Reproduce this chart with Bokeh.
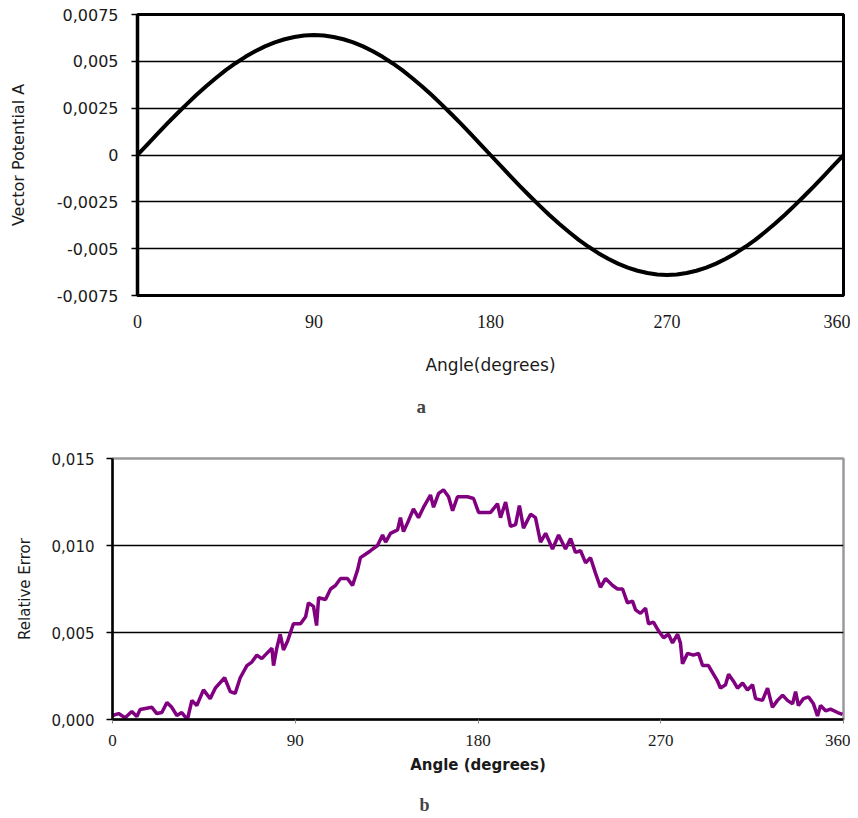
from bokeh.plotting import figure
from bokeh.layouts import column, row
from bokeh.models import FixedTicker, Title, Range1d
from bokeh.embed import file_html
from bokeh.resources import INLINE

# ---- data: panel a (vector potential) ----
angle_a = list(range(0, 365, 5))
potential_a = [
    0.0, 0.00056, 0.00111, 0.00166, 0.00219, 0.00270, 0.00320, 0.00367, 0.00411, 0.00453,
    0.00490, 0.00524, 0.00554, 0.00580, 0.00601, 0.00618, 0.00630, 0.00638, 0.00640,
    0.00638, 0.00630, 0.00618, 0.00601, 0.00580, 0.00554, 0.00524, 0.00490, 0.00453,
    0.00411, 0.00367, 0.00320, 0.00270, 0.00219, 0.00166, 0.00111, 0.00056, 0.0,
    -0.00056, -0.00111, -0.00166, -0.00219, -0.00270, -0.00320, -0.00367, -0.00411, -0.00453,
    -0.00490, -0.00524, -0.00554, -0.00580, -0.00601, -0.00618, -0.00630, -0.00638, -0.00640,
    -0.00638, -0.00630, -0.00618, -0.00601, -0.00580, -0.00554, -0.00524, -0.00490, -0.00453,
    -0.00411, -0.00367, -0.00320, -0.00270, -0.00219, -0.00166, -0.00111, -0.00056, 0.0,
]

# ---- data: panel b (relative error) ----
angle_b = [
    0, 3.0, 6.2, 9.5, 12.0, 13.6, 19.4, 21.8, 24.3, 26.8, 29.2, 31.7, 34.1, 36.9, 39.1,
    41.5, 44.8, 48.1, 50.6, 55.2, 58.0, 60.4, 62.9, 66.2, 68.6, 71.1, 73.5, 76.0, 78.5,
    79.3, 80.9, 82.6, 84.2, 86.2, 89.1, 92.6, 95.1, 96.5, 99.0, 100.5, 101.5, 104.9,
    107.4, 109.8, 112.3, 115.7, 118.2, 120.7, 122.1, 124.6, 127.1, 130.5, 133.0, 134.5,
    136.9, 140.4, 141.8, 143.3, 145.3, 148.2, 150.7, 153.2, 156.6, 158.1, 160.6, 163.0,
    165.5, 167.5, 169.9, 174.8, 177.8, 180.3, 186.2, 189.6, 191.1, 193.6, 196.0, 198.5,
    200.4, 202.4, 205.9, 208.3, 210.8, 213.3, 216.7, 219.7, 223.1, 225.6, 228.0, 230.5,
    233.0, 235.4, 237.9, 240.3, 242.8, 246.3, 248.7, 251.2, 253.6, 256.1, 257.6, 260.0,
    262.5, 264.0, 266.4, 268.9, 271.4, 273.8, 275.8, 278.3, 279.7, 280.7, 283.2, 286.1,
    288.6, 290.6, 293.5, 295.5, 298.0, 299.4, 301.9, 303.4, 305.8, 307.8, 310.3, 312.7,
    315.2, 316.7, 320.1, 322.6, 325.0, 327.5, 330.0, 332.4, 334.9, 336.4, 337.8, 340.3,
    342.8, 345.2, 347.2, 348.7, 351.2, 353.6, 357.1, 359.5,
]
error_b = [
    0.00023, 0.00034, 0.0001, 0.00046, 0.00017, 0.00057, 0.0007, 0.00034, 0.0004, 0.00098,
    0.0007, 0.00023, 0.0004, 0.0, 0.0011, 0.0008, 0.0017, 0.0012, 0.0018, 0.0024, 0.0016,
    0.0015, 0.0024, 0.0031, 0.0033, 0.0037, 0.0035, 0.0038, 0.0041, 0.0031, 0.0041, 0.0049,
    0.0040, 0.0045, 0.0055, 0.0055, 0.0059, 0.0067, 0.0065, 0.0054, 0.0070, 0.0069, 0.0075,
    0.0077, 0.0081, 0.0081, 0.0077, 0.0086, 0.0093, 0.0095, 0.0097, 0.0100, 0.0106, 0.0102,
    0.0107, 0.0109, 0.0116, 0.0108, 0.0113, 0.0121, 0.0116, 0.0122, 0.0129, 0.0122, 0.0130,
    0.0132, 0.0128, 0.0120, 0.0128, 0.0128, 0.0127, 0.0119, 0.0119, 0.0124, 0.0116, 0.0125,
    0.0111, 0.0112, 0.0123, 0.0110, 0.0118, 0.0116, 0.0102, 0.0107, 0.0098, 0.0106, 0.0098,
    0.0104, 0.0096, 0.0097, 0.0090, 0.0093, 0.0084, 0.0076, 0.0081, 0.0077, 0.0075, 0.0075,
    0.0067, 0.0068, 0.0063, 0.0061, 0.0064, 0.0055, 0.0056, 0.0051, 0.0047, 0.0049, 0.0044,
    0.0049, 0.0044, 0.0032, 0.0038, 0.0037, 0.0038, 0.0031, 0.0031, 0.0027, 0.0022, 0.0018,
    0.0020, 0.0026, 0.0022, 0.0018, 0.0021, 0.0017, 0.0020, 0.0012, 0.0011, 0.0018, 0.0007,
    0.0011, 0.0014, 0.0011, 0.0009, 0.0016, 0.0008, 0.0012, 0.0013, 0.0009, 0.0002, 0.0008,
    0.0005, 0.0006, 0.0004, 0.0003,
]

x_ticks = [0, 90, 180, 270, 360]
y_ticks_a = [-0.0075, -0.005, -0.0025, 0, 0.0025, 0.005, 0.0075]
y_labels_a = ["-0,0075", "-0,005", "-0,0025", "0", "0,0025", "0,005", "0,0075"]
y_ticks_b = [0, 0.005, 0.010, 0.015]
y_labels_b = ["0,000", "0,005", "0,010", "0,015"]

SANS = "DejaVu Sans"
SERIF = "Liberation Serif"
TXT = "#1a1a1a"

# ---------------- panel a ----------------
p1 = figure(width=850, height=434, output_backend="svg", toolbar_location=None,
            x_range=Range1d(0, 360), y_range=Range1d(-0.0075, 0.0075),
            min_border_left=137, min_border_right=7, min_border_top=14, min_border_bottom=139)
p1.line(angle_a, potential_a, line_color="black", line_width=4)

p1.outline_line_color = "black"
p1.outline_line_width = 3
p1.xgrid.visible = False
p1.ygrid.grid_line_color = "black"
p1.ygrid.grid_line_width = 1.5
p1.ygrid.ticker = FixedTicker(ticks=y_ticks_a)

p1.yaxis.ticker = FixedTicker(ticks=y_ticks_a)
p1.yaxis.major_label_overrides = {t: l for t, l in zip(y_ticks_a, y_labels_a)}
p1.yaxis.axis_line_color = "black"
p1.yaxis.axis_line_width = 3.5
p1.yaxis.major_tick_out = 6
p1.yaxis.major_tick_in = 0
p1.yaxis.major_tick_line_width = 1.5
p1.yaxis.minor_tick_line_color = None
p1.yaxis.major_label_text_font = SANS
p1.yaxis.major_label_text_font_size = "16px"
p1.yaxis.major_label_text_color = TXT
p1.yaxis.major_label_standoff = 13
p1.yaxis.axis_label = "Vector Potential A"
p1.yaxis.axis_label_text_font = SANS
p1.yaxis.axis_label_text_font_size = "16px"
p1.yaxis.axis_label_text_font_style = "normal"
p1.yaxis.axis_label_text_color = TXT
p1.yaxis.axis_label_standoff = 26

p1.xaxis.ticker = FixedTicker(ticks=x_ticks)
p1.xaxis.axis_line_color = "black"
p1.xaxis.axis_line_width = 3
p1.xaxis.major_tick_out = 0
p1.xaxis.major_tick_in = 0
p1.xaxis.major_tick_line_color = None
p1.xaxis.minor_tick_line_color = None
p1.xaxis.major_label_text_font = SERIF
p1.xaxis.major_label_text_font_size = "18px"
p1.xaxis.major_label_text_color = TXT
p1.xaxis.major_label_standoff = 19
p1.xaxis.axis_label = "Angle(degrees)"
p1.xaxis.axis_label_text_font = SANS
p1.xaxis.axis_label_text_font_size = "17px"
p1.xaxis.axis_label_text_font_style = "normal"
p1.xaxis.axis_label_text_color = TXT
p1.xaxis.axis_label_standoff = 24

p1.add_layout(Title(text="a", text_font=SERIF, text_font_style="bold", text_font_size="19px",
                    align="left", offset=279, standoff=33), "below")

# ---------------- panel b ----------------
p2 = figure(width=850, height=384, output_backend="svg", toolbar_location=None,
            x_range=Range1d(0, 360), y_range=Range1d(0, 0.015),
            min_border_left=112, min_border_right=7, min_border_top=24, min_border_bottom=99)
p2.line(angle_b, error_b, line_color="#800080", line_width=3.5)

p2.outline_line_color = "#9a9a9a"
p2.outline_line_width = 2.5
p2.xgrid.visible = False
p2.ygrid.grid_line_color = "black"
p2.ygrid.grid_line_width = 1.5
p2.ygrid.ticker = FixedTicker(ticks=y_ticks_b)

p2.yaxis.ticker = FixedTicker(ticks=y_ticks_b)
p2.yaxis.major_label_overrides = {t: l for t, l in zip(y_ticks_b, y_labels_b)}
p2.yaxis.axis_line_color = "black"
p2.yaxis.axis_line_width = 2.5
p2.yaxis.major_tick_out = 6
p2.yaxis.major_tick_in = 0
p2.yaxis.major_tick_line_width = 1.5
p2.yaxis.minor_tick_line_color = None
p2.yaxis.major_label_text_font = SANS
p2.yaxis.major_label_text_font_size = "15px"
p2.yaxis.major_label_text_color = TXT
p2.yaxis.major_label_standoff = 12
p2.yaxis.axis_label = "Relative Error"
p2.yaxis.axis_label_text_font = SANS
p2.yaxis.axis_label_text_font_size = "15px"
p2.yaxis.axis_label_text_font_style = "normal"
p2.yaxis.axis_label_text_color = TXT
p2.yaxis.axis_label_standoff = 15

p2.xaxis.ticker = FixedTicker(ticks=x_ticks)
p2.xaxis.axis_line_color = "black"
p2.xaxis.axis_line_width = 2.5
p2.xaxis.major_tick_out = 4
p2.xaxis.major_tick_in = 0
p2.xaxis.major_tick_line_color = "#888888"
p2.xaxis.minor_tick_line_color = None
p2.xaxis.major_label_text_font = SERIF
p2.xaxis.major_label_text_font_size = "17px"
p2.xaxis.major_label_text_color = TXT
p2.xaxis.major_label_standoff = 11
p2.xaxis.axis_label = "Angle (degrees)"
p2.xaxis.axis_label_text_font = SANS
p2.xaxis.axis_label_text_font_size = "15px"
p2.xaxis.axis_label_text_font_style = "bold"
p2.xaxis.axis_label_text_color = TXT
p2.xaxis.axis_label_standoff = 7

# two-line title with an empty first line: pushes "b" down without extra space below it
p2.add_layout(Title(text="\nb", text_font=SERIF, text_font_style="bold", text_font_size="18px",
                    text_line_height=0.6, align="left", offset=307, standoff=8), "below")

layout = column(row(p1), row(p2), spacing=0)
open("out.html", "w").write(file_html(layout, INLINE))
